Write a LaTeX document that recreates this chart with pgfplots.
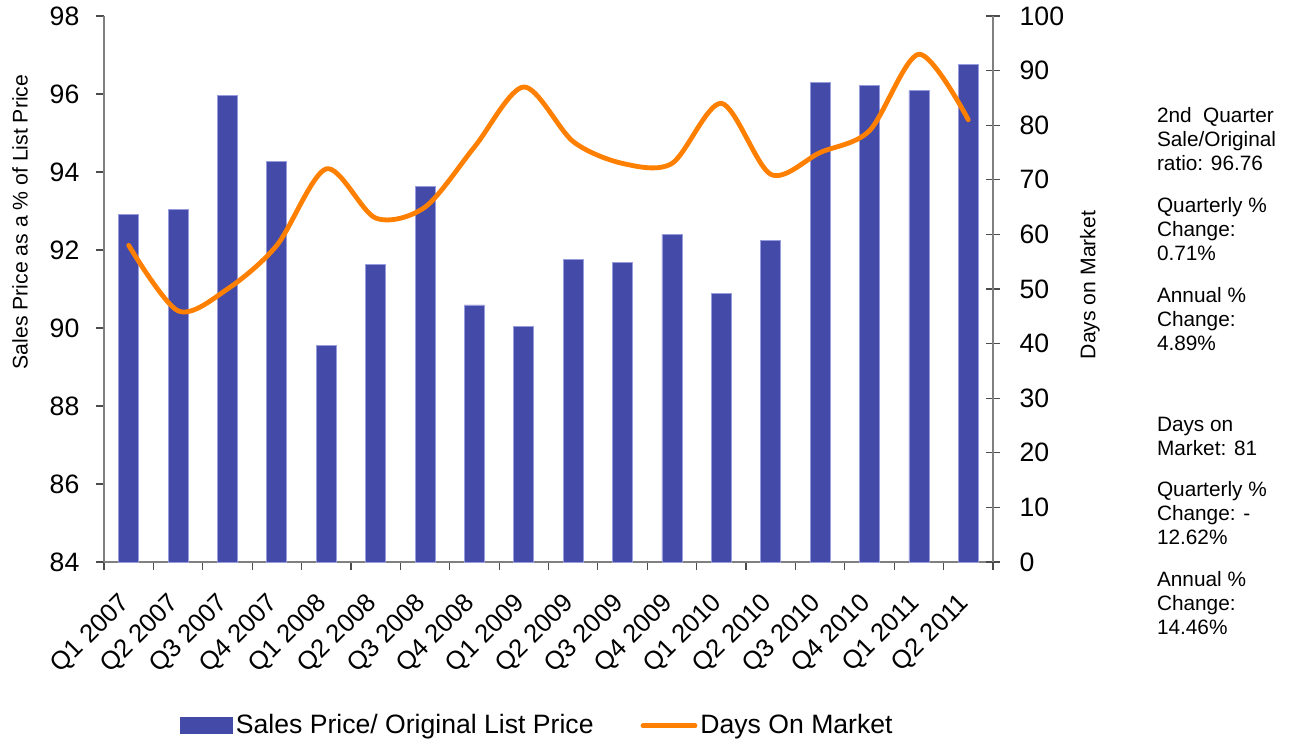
\documentclass[border=0pt]{standalone}
\usepackage{fontspec}
\setmainfont{Liberation Sans}
\usepackage{pgfplots}
\pgfplotsset{compat=1.18}
\definecolor{barblue}{RGB}{67,74,168}
\definecolor{baredge}{RGB}{150,156,220}
\definecolor{lineorange}{RGB}{255,128,0}
\definecolor{axgray}{RGB}{128,128,128}
\newcommand{\tickfont}{\fontsize{13.3}{16}\selectfont}
\newcommand{\xtickfont}{\fontsize{12.8}{15}\selectfont}
\newcommand{\labfont}{\fontsize{10.6}{12}\selectfont}
\newcommand{\sidefont}{\fontsize{10.4}{12}\selectfont}
\begin{document}
\begin{tikzpicture}
\useasboundingbox (0pt,0pt) rectangle (648.5pt,-372pt);
\begin{axis}[
  at={(52pt,-281pt)}, anchor=south west, scale only axis,
  width=444.5pt, height=273pt,
  xmin=-0.5, xmax=17.5, ymin=84, ymax=98,
  axis y line*=left, axis x line*=bottom,
  axis line style={axgray, line width=0.75pt, -},
  every tick/.style={black!70, line width=0.6pt},
  tick align=outside,
  major tick length=3.8pt,
  ytick={84,86,88,90,92,94,96,98},
  yticklabel style={font=\tickfont, xshift=-5pt},
  /pgf/number format/assume math mode=true,
  xtick={-0.5,0.5,1.5,2.5,3.5,4.5,5.5,6.5,7.5,8.5,9.5,10.5,11.5,12.5,13.5,14.5,15.5,16.5,17.5},
  xticklabels={},
  extra x ticks={0,1,2,3,4,5,6,7,8,9,10,11,12,13,14,15,16,17},
  extra x tick labels={Q1 2007,Q2 2007,Q3 2007,Q4 2007,Q1 2008,Q2 2008,Q3 2008,Q4 2008,Q1 2009,Q2 2009,Q3 2009,Q4 2009,Q1 2010,Q2 2010,Q3 2010,Q4 2010,Q1 2011,Q2 2011},
  extra x tick style={major tick length=0pt, tick label style={rotate=45, anchor=north east, inner sep=0pt, xshift=-14.2pt, yshift=-6.4pt, font=\xtickfont}},
  ybar, bar width=10pt,
  clip=false,
]
\addplot[fill=barblue, draw=baredge, line width=0.4pt] coordinates {
(0,92.91) (1,93.05) (2,95.97) (3,94.27) (4,89.56) (5,91.64) (6,93.63) (7,90.59) (8,90.05)
(9,91.75) (10,91.68) (11,92.39) (12,90.89) (13,92.25) (14,96.30) (15,96.21) (16,96.08) (17,96.76)};
\end{axis}
\begin{axis}[
  at={(52pt,-281pt)}, anchor=south west, scale only axis,
  width=444.5pt, height=273pt,
  xmin=-0.5, xmax=17.5, ymin=0, ymax=100,
  axis y line*=right, axis x line=none,
  axis line style={axgray, line width=0.75pt, -},
  every tick/.style={black!70, line width=0.6pt},
  tick align=center, major tick length=6.6pt,
  ytick={0,10,...,100},
  yticklabel style={font=\tickfont, xshift=6.5pt},
  /pgf/number format/assume math mode=true,
  clip=false,
  legend style={at={(0.488,-0.300)}, anchor=center, draw=none, fill=none,
    legend columns=2, font=\tickfont, column sep=0pt,
    /tikz/every even column/.append style={column sep=22pt},
    nodes={inner sep=1.5pt}},
  legend cell align=left,
]
\addlegendimage{legend image code/.code={\fill[barblue] (0pt,-4pt) rectangle (26pt,4pt);}}
\addlegendentry{Sales Price/ Original List Price}
\addplot[lineorange, line width=2.4pt, smooth, line cap=round,
  legend image code/.code={\draw[lineorange, line width=2.4pt, line cap=round] (0pt,0pt) -- (26pt,0pt);}]
coordinates {
(0,58) (1,46) (2,50) (3,58) (4,72) (5,63) (6,65) (7,76) (8,87) (9,77) (10,73) (11,73)
(12,84) (13,71) (14,75) (15,79) (16,93) (17,81)};
\addlegendentry{Days On Market}
\end{axis}
\node[rotate=90, font=\labfont] at (10pt,-111pt) {Sales Price as a \% of List Price};
\node[rotate=90, font=\labfont] at (545pt,-142.5pt) {Days on Market};
\begin{scope}[every node/.style={anchor=base west, font=\sidefont, inner sep=0pt}]
\node at (578.3pt,-61.3pt) {2nd\ \ Quarter};
\node at (578.3pt,-73.3pt) {Sale/Original};
\node at (578.3pt,-85.3pt) {ratio: 96.76};
\node at (578.3pt,-106.2pt) {Quarterly \%};
\node at (578.3pt,-118.2pt) {Change:};
\node at (578.3pt,-130.2pt) {0.71\%};
\node at (578.3pt,-151pt) {Annual \%};
\node at (578.3pt,-163pt) {Change:};
\node at (578.3pt,-175pt) {4.89\%};
\node at (578.3pt,-215.8pt) {Days on};
\node at (578.3pt,-227.8pt) {Market: 81};
\node at (578.3pt,-248.3pt) {Quarterly \%};
\node at (578.3pt,-260.3pt) {Change: -};
\node at (578.3pt,-272.3pt) {12.62\%};
\node at (578.3pt,-293pt) {Annual \%};
\node at (578.3pt,-305pt) {Change:};
\node at (578.3pt,-317pt) {14.46\%};
\end{scope}
\end{tikzpicture}
\end{document}
